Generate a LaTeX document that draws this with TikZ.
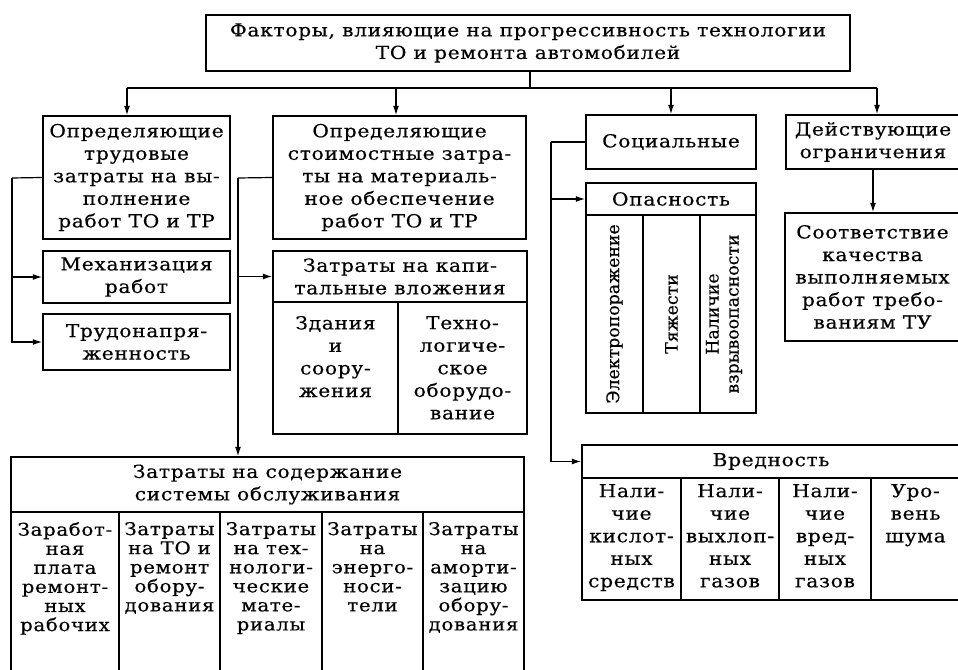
\documentclass[tikz,border=0pt]{standalone}
\usepackage{fontspec}
\setmainfont{DejaVu Serif}[FakeStretch=1.12,LetterSpace=4,FakeBold=0.4]
\newfontfamily\rotfont{DejaVu Serif}[FakeStretch=1.0,FakeBold=0.4]
\usetikzlibrary{arrows.meta}
\tikzset{
  frame/.style={draw, line width=1.3pt, inner sep=0pt, align=center},
  conn/.style={line width=0.9pt},
  arr/.style={conn, -{Latex[length=7pt,width=4.5pt]}},
  txt/.style={align=center, inner sep=0pt},
  tight/.style={font=\fontsize{13.2}{14.3}\selectfont},
  rot/.style={txt, rotate=90, font=\rotfont\fontsize{13}{15}\selectfont},
}
\newcommand\mkbox[7][]{%
  \node[frame,#1,minimum width={(#5-#3)*0.75pt},minimum height={(#6-#4)*0.75pt}]
    (#2) at ({(#3+#5)/2},{(#4+#6)/2}) {#7};}
\begin{document}
\begin{tikzpicture}[x=0.75pt,y=-0.75pt,font=\fontsize{13.5}{16.9}\selectfont]
\clip (0,0) rectangle (958,670);
\fill[white] (0,0) rectangle (958,670);
% main boxes
\mkbox{top}{206}{15}{850}{71}{Факторы, влияющие на прогрессивность технологии\\ТО и ремонта автомобилей}
\mkbox{b1}{43}{116}{230}{239}{Определяющие\\трудовые\\затраты на вы-\\полнение\\работ ТО и ТР}
\mkbox{b2}{273}{116}{526}{239}{Определяющие\\стоимостные затра-\\ты на материаль-\\ное обеспечение\\работ ТО и ТР}
\mkbox{soc}{586}{115}{756}{169}{Социальные}
\mkbox{dei}{786}{115}{960}{169}{Действующие\\ограничения}
\mkbox{sootv}{785}{213}{960}{341}{Соответствие\\качества\\выполняемых\\работ требо-\\ваниям ТУ}
\mkbox{mech}{43}{251}{230}{303}{Механизация\\работ}
\mkbox{trud}{43}{314}{230}{370}{Трудонапря-\\женность}
% capital investments
\mkbox{kaph}{273}{251}{527}{302}{Затраты на капи-\\тальные вложения}
\mkbox{kap1}{273}{302}{398}{434}{}
\mkbox{kap2}{398}{302}{527}{434}{}
\node[txt,anchor=north] (kap1t) at ([yshift=-11pt]kap1.north) {Здания\\и\\соору-\\жения};
\node[txt,anchor=north] (kap2t) at ([yshift=-11pt]kap2.north) {Техно-\\логиче-\\ское\\оборудо-\\вание};
% danger
\mkbox{oph}{586}{183}{756}{215}{Опасность}
\mkbox{op1}{586}{215}{643}{413}{}
\mkbox{op2}{643}{215}{700}{413}{}
\mkbox{op3}{700}{215}{756}{413}{}
\node[rot] (op1t) at (op1.center) {Электропоражение};
\node[rot] (op2t) at (op2.center) {Тяжести};
\node[rot] (op3t) at ([xshift=-3pt]op3.center) {Наличие\\взрывоопасности};
% harm
\mkbox{vrh}{582}{445}{960}{478}{Вредность}
\mkbox{vr1}{582}{478}{681}{600}{}
\mkbox{vr2}{681}{478}{779}{600}{}
\mkbox{vr3}{779}{478}{871}{600}{}
\mkbox{vr4}{871}{478}{960}{600}{}
\node[txt,anchor=north] (vr1t) at ([yshift=-5pt]vr1.north) {Нали-\\чие\\кислот-\\ных\\средств};
\node[txt,anchor=north] (vr2t) at ([yshift=-5pt]vr2.north) {Нали-\\чие\\выхлоп-\\ных\\газов};
\node[txt,anchor=north] (vr3t) at ([yshift=-5pt]vr3.north) {Нали-\\чие\\вред-\\ных\\газов};
\node[txt,anchor=north] (vr4t) at ([yshift=-5pt]vr4.north) {Уро-\\вень\\шума};
% maintenance system
\mkbox{sodh}{11}{457}{524}{512}{Затраты на содержание\\системы обслуживания}
\mkbox{sod1}{11}{512}{119}{690}{}
\mkbox{sod2}{119}{512}{220}{690}{}
\mkbox{sod3}{220}{512}{322}{690}{}
\mkbox{sod4}{322}{512}{423}{690}{}
\mkbox{sod5}{423}{512}{524}{690}{}
\node[txt,tight,anchor=north] (sod1t) at ([yshift=-8pt]sod1.north) {Заработ-\\ная\\плата\\ремонт-\\ных\\рабочих};
\node[txt,tight,anchor=north] (sod2t) at ([yshift=-8pt]sod2.north) {Затраты\\на ТО и\\ремонт\\обору-\\дования};
\node[txt,tight,anchor=north] (sod3t) at ([yshift=-8pt]sod3.north) {Затраты\\на тех-\\нологи-\\ческие\\мате-\\риалы};
\node[txt,tight,anchor=north] (sod4t) at ([yshift=-8pt]sod4.north) {Затраты\\на\\энерго-\\носи-\\тели};
\node[txt,tight,anchor=north] (sod5t) at ([yshift=-8pt]sod5.north) {Затраты\\на\\аморти-\\зацию\\обору-\\дования};
% connectors from the title
\coordinate (hub) at (530,88);
\coordinate (h1) at (127,88);
\coordinate (h2) at (396,88);
\coordinate (h4) at (877,88);
\draw[conn] (top.south -| hub) -- (hub);
\draw[conn] (h1) -- (h4);
\draw[arr] (h1) -- (h1 |- b1.north);
\draw[arr] (h2) -- (h2 |- b2.north);
\draw[arr] (soc.north |- hub) -- (soc.north);
\draw[arr] (h4) -- (h4 |- dei.north);
% labour branch
\coordinate (l1) at (12,178);
\draw[conn] (b1.west) -- (l1);
\draw[arr] (l1) |- (trud.west);
\draw[arr] (l1 |- mech.west) -- (mech.west);
% cost branch
\coordinate (l2) at (238,178);
\draw[conn] (b2.west) -- (l2);
\draw[arr] (l2) -- (l2 |- sodh.north);
\draw[arr] (l2 |- kaph.west) -- (kaph.west);
% social branch
\coordinate (l3) at (551,142);
\draw[conn] (soc.west) -- (l3);
\draw[arr] (l3) |- (vrh.west);
\draw[arr] (l3 |- oph.west) -- (oph.west);
% restrictions
\draw[arr] (dei.south) -- (dei.south |- sootv.north);
\end{tikzpicture}
\end{document}
